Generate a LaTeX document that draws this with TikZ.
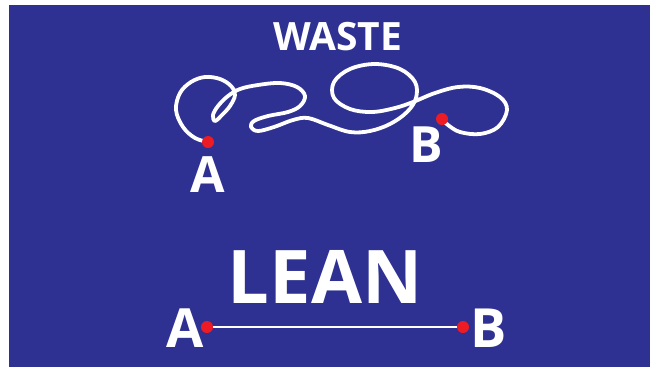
\documentclass[tikz,border=0pt]{standalone}
\usepackage{fontspec}
\setmainfont{Open Sans}
\definecolor{bgblue}{HTML}{2E3192}
\definecolor{dotred}{HTML}{ED1C24}
\begin{document}
\begin{tikzpicture}[x=1pt,y=-1pt,
  word/.style={text=white, inner sep=0pt, anchor=base},
  pin/.style={circle, fill=dotred, inner sep=0pt, minimum size=12pt},
  wire/.style={white, line width=3.8pt, line cap=round, line join=round}]
\useasboundingbox (0,0) rectangle (650,368);
\fill[white] (0,0) rectangle (650,368);
\fill[bgblue] (9,5) rectangle (650,367);

% titles
\node[word, font=\bfseries\fontsize{39}{39}\selectfont] (waste) at (337.5,50) {WASTE};
\node[word, font=\bfseries\fontsize{74}{74}\selectfont] (lean) at (325,303) {LEAN};

% end points of the winding route
\coordinate (pa) at (208,142);
\coordinate (pb) at (442,119);

\draw[wire] plot[smooth, tension=0.6] coordinates {
  (pa) (195,138) (183,127) (176,110) (180,93) (191,82) (205,77) (220,79)
  (231,86) (235,95) (230,106) (222,115) (215,121) (213,115) (218,106)
  (228,96) (240,89) (258,85) (280,83) (297,87) (305,96) (300,106)
  (288,112) (268,116) (254,121) (251,127) (258,131) (274,127) (293,120)
  (308,118) (328,125) (350,132) (370,131) (390,124) (407,112) (416,98)
  (415,82) (400,69) (375,64) (350,69) (334,82) (334,98) (350,109)
  (372,112) (395,108) (413,102) (435,93) (458,87) (480,88) (500,97)
  (507,110) (498,127) (480,134) (460,132) (448,125) (pb)};

\node[pin] (dotA) at (pa) {};
\node[pin] (dotB) at (pb) {};
\node[word, font=\bfseries\fontsize{50}{50}\selectfont] (labA) at (207.5,192) {A};
\node[word, font=\bfseries\fontsize{50}{50}\selectfont] (labB) at (426,162) {B};

% the straight route
\node[pin] (leanA) at (207,327) {};
\node[pin] (leanB) at (463,327) {};
\draw[white, line width=2.4pt] (leanA) -- (leanB);
\node[word, font=\bfseries\fontsize{54}{54}\selectfont] (lA) at (185,347) {A};
\node[word, font=\bfseries\fontsize{54}{54}\selectfont] (lB) at (488.5,347) {B};
\end{tikzpicture}
\end{document}
